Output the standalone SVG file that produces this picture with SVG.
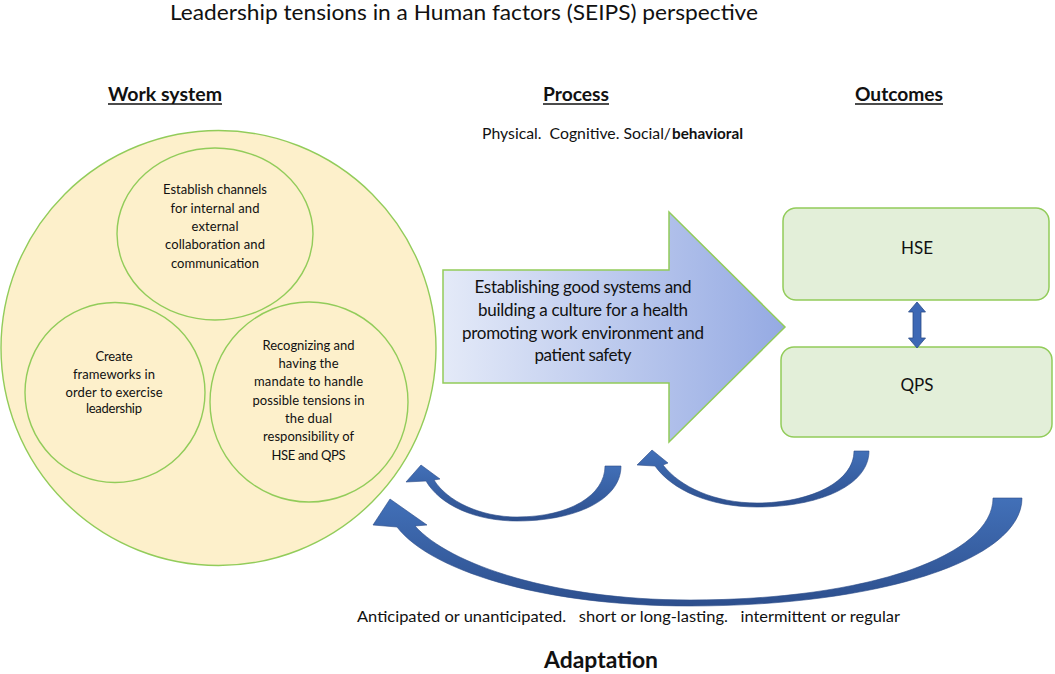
<svg xmlns="http://www.w3.org/2000/svg" width="1055" height="674" viewBox="0 0 1055 674">
<style>
  text { font-family: Lato, "Liberation Sans", Arial, sans-serif; fill: #111; }
  .title { font-size: 22px; }
  .head { font-size: 19px; font-weight: bold; }
  .small { font-size: 13px; text-anchor: middle; }
  .mid { font-size: 17px; text-anchor: middle; }
  .box { font-size: 17px; text-anchor: middle; }
  .circ { fill: #fdf0cb; stroke: #92cc5a; stroke-width: 1.4; }
  .outbox { fill: #e3efd9; stroke: #92cc5a; stroke-width: 1.5; }
  .curve { fill: url(#darkblue); stroke: #2b4c88; stroke-width: 0.6; }
  .ul { stroke: #111; stroke-width: 1.5; }
</style>
<defs>
  <linearGradient id="procgrad" x1="0" y1="0" x2="1" y2="0">
    <stop offset="0" stop-color="#e4eaf8"/>
    <stop offset="1" stop-color="#95aae3"/>
  </linearGradient>
  <linearGradient id="darkblue" x1="0" y1="0" x2="0" y2="1">
    <stop offset="0" stop-color="#4270b8"/>
    <stop offset="1" stop-color="#2d4f8d"/>
  </linearGradient>
</defs>
<rect width="1055" height="674" fill="#ffffff"/>

<g id="title">
  <text class="title" x="170" y="20" textLength="588" lengthAdjust="spacingAndGlyphs">Leadership tensions in a Human factors (SEIPS) perspective</text>
</g>

<g id="headers">
  <text class="head" x="108" y="101" textLength="114" lengthAdjust="spacingAndGlyphs">Work system</text>
  <line class="ul" x1="108" y1="104" x2="222" y2="104"/>
  <text class="head" x="543" y="101" textLength="66" lengthAdjust="spacingAndGlyphs">Process</text>
  <line class="ul" x1="543" y1="104" x2="609" y2="104"/>
  <text class="head" x="855" y="101" textLength="88" lengthAdjust="spacingAndGlyphs">Outcomes</text>
  <line class="ul" x1="855" y1="104" x2="943" y2="104"/>
  <text x="482" y="139" font-size="15" xml:space="preserve" textLength="189" lengthAdjust="spacingAndGlyphs">Physical.  Cognitive. Social/</text>
  <text x="672" y="139" font-size="15" font-weight="bold" textLength="71" lengthAdjust="spacingAndGlyphs">behavioral</text>
</g>

<g id="work-system">
  <circle class="circ" cx="218.5" cy="348" r="217.5"/>
</g>

<g id="ws-channels">
  <ellipse class="circ" cx="215" cy="234" rx="98" ry="86"/>
  <text class="small" x="215" y="194" textLength="104">Establish channels</text>
  <text class="small" x="215" y="212.5" textLength="89">for internal and</text>
  <text class="small" x="215" y="231" textLength="47">external</text>
  <text class="small" x="215" y="249" textLength="100">collaboration and</text>
  <text class="small" x="215" y="267.5" textLength="88">communication</text>
</g>

<g id="ws-frameworks">
  <circle class="circ" cx="115" cy="392.5" r="90"/>
  <text class="small" x="114" y="360.5" textLength="37">Create</text>
  <text class="small" x="114" y="378.8" textLength="82">frameworks in</text>
  <text class="small" x="114" y="397.1" textLength="97">order to exercise</text>
  <text class="small" x="114" y="412.5" textLength="56">leadership</text>
</g>

<g id="ws-tensions">
  <ellipse class="circ" cx="309" cy="402" rx="99" ry="100"/>
  <text class="small" x="308.5" y="349.5" textLength="92">Recognizing and</text>
  <text class="small" x="308.5" y="368" textLength="60">having the</text>
  <text class="small" x="308.5" y="386" textLength="109">mandate to handle</text>
  <text class="small" x="308.5" y="404.5" textLength="112">possible tensions in</text>
  <text class="small" x="308.5" y="423" textLength="47">the dual</text>
  <text class="small" x="308.5" y="441" textLength="91">responsibility of</text>
  <text class="small" x="308.5" y="459.5" textLength="74">HSE and QPS</text>
</g>

<g id="process-arrow">
  <path d="M443,270 L669,270 L669,212 L785,327 L669,442 L669,383 L443,383 Z" fill="url(#procgrad)" stroke="#92cc5a" stroke-width="1.5"/>
  <text class="mid" x="583" y="292.5" textLength="217">Establishing good systems and</text>
  <text class="mid" x="583" y="315.5" textLength="210">building a culture for a health</text>
  <text class="mid" x="583" y="338.5" textLength="242">promoting work environment and</text>
  <text class="mid" x="583" y="361" textLength="97">patient safety</text>
</g>

<g id="outcome-hse">
  <rect class="outbox" x="783" y="208" width="266" height="92" rx="13"/>
  <text class="box" x="917" y="254" textLength="32">HSE</text>
</g>

<g id="outcome-qps">
  <rect class="outbox" x="781" y="347" width="271" height="90" rx="13"/>
  <text class="box" x="917" y="391" textLength="33">QPS</text>
</g>

<g id="connectors">
  <path d="M917,302 L925.5,312 L921,312 L921,338 L925.5,338 L917,348 L908.5,338 L913,338 L913,312 L908.5,312 Z" fill="#3d68b5" stroke="#2b4c88" stroke-width="0.8"/>
  <path class="curve" d="M605,466 L621,466 C621,500 575,521 517,521 C475,521 440,505 426,481 L406,482 L421,465 L440,479 L434,480 C447,501 480,517 517,517 C570,517 605,495 605,466 Z"/>
  <path class="curve" d="M854,451 L869,451 C869,485 820,507 757,507 C710,507 672,490 655,466 L637,465 L652,450 L668,463 L663,465 C680,487 715,503 757,503 C810,503 854,482 854,451 Z"/>
  <path class="curve" d="M993,498 L1022,498 C1022,560 880,606 690,606 C540,606 430,570 397,527 L373,525 L390,499 L427,525 L415,526 C450,565 555,600 690,600 C870,600 993,555 993,498 Z"/>
</g>

<g id="adaptation">
  <text x="357" y="622" font-size="16" xml:space="preserve" textLength="543" lengthAdjust="spacingAndGlyphs">Anticipated or unanticipated.   short or long-lasting.   intermittent or regular</text>
  <text x="544" y="668" font-size="22" font-weight="bold" textLength="114" lengthAdjust="spacingAndGlyphs">Adaptation</text>
</g>
</svg>
